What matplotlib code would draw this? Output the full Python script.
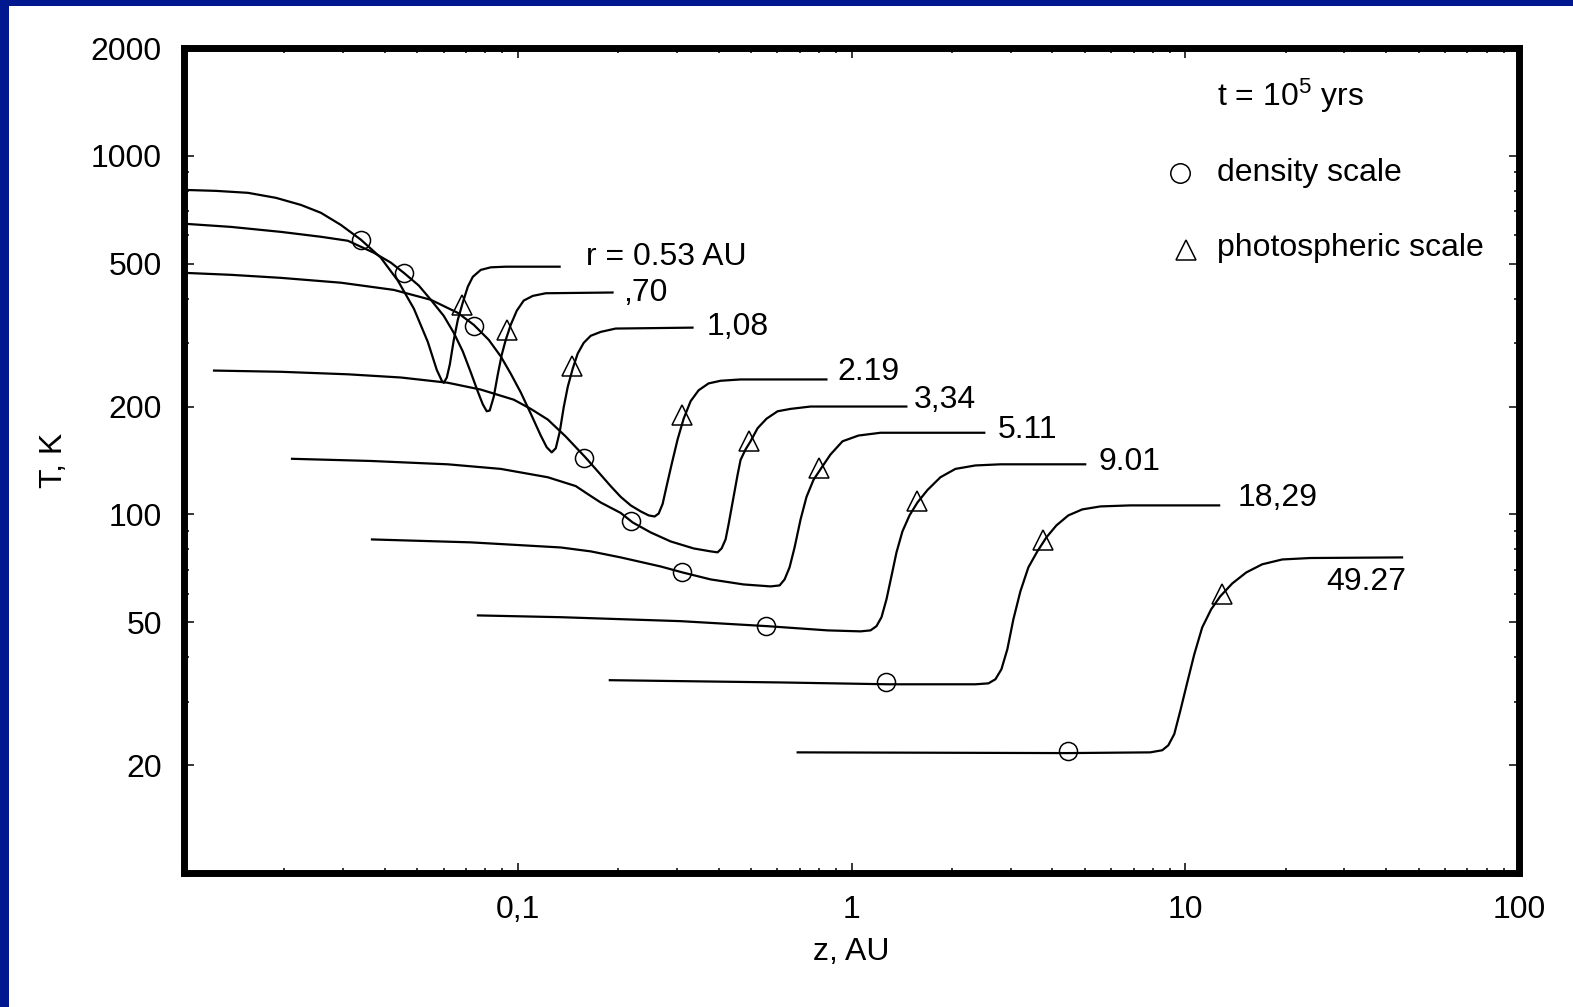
import matplotlib
matplotlib.use("Agg")
import matplotlib.pyplot as plt
from matplotlib.patches import Rectangle
from matplotlib.ticker import FixedLocator, LogLocator, NullFormatter, FuncFormatter

plt.rcParams['font.family'] = ['Liberation Sans', 'DejaVu Sans']
plt.rcParams['mathtext.fontset'] = 'custom'
plt.rcParams['mathtext.rm'] = 'Liberation Sans'
plt.rcParams['mathtext.it'] = 'Liberation Sans:italic'

# vertical temperature profiles T(z) at t = 1e5 yrs, z in AU, T in K
z_053 = [0.01000, 0.01247, 0.01555, 0.01886, 0.02241, 0.02572, 0.02952, 0.03388, 0.03889,
         0.04372, 0.04884, 0.05376, 0.05720, 0.05922, 0.06002, 0.06130, 0.06258, 0.06433,
         0.06613, 0.06844, 0.07087, 0.07333, 0.07748, 0.08304, 0.09206, 0.1345]
T_053 = [804, 799, 789, 764, 730, 694, 642, 584, 520,
         449, 375, 303, 253, 236, 233, 241, 262, 307,
         349, 390, 432, 460, 481, 489, 491, 491]

z_070 = [0.01000, 0.01382, 0.01952, 0.02572, 0.03097, 0.03706, 0.04166, 0.04557, 0.05053,
         0.05489, 0.06002, 0.06433, 0.06844, 0.07233, 0.07593, 0.07855, 0.08073, 0.08242,
         0.08475, 0.08715, 0.08955, 0.09206, 0.09528, 0.09931, 0.1042, 0.1109, 0.1213, 0.1938]
T_070 = [647, 634, 614, 595, 580, 537, 504, 472, 435,
         397, 358, 321, 285, 249, 220, 203, 194, 195,
         213, 246, 279, 307, 338, 370, 395, 407, 414, 416]

z_108 = [0.01000, 0.01382, 0.01952, 0.02952, 0.04252, 0.05489, 0.06613, 0.07383, 0.08186,
         0.08893, 0.09528, 0.1021, 0.1094, 0.1172, 0.1221, 0.1264, 0.1300, 0.1336,
         0.1373, 0.1412, 0.1461, 0.1512, 0.1576, 0.1654, 0.1772, 0.1965, 0.3364]
T_108 = [472, 466, 457, 443, 423, 397, 365, 338, 307,
         276, 247, 219, 191, 166, 154, 149, 153, 170,
         199, 227, 255, 281, 301, 315, 323, 330, 332]

z_219 = [0.01221, 0.01952, 0.03097, 0.04463, 0.06172, 0.07748, 0.09728, 0.1094, 0.1230,
         0.1392, 0.1598, 0.1748, 0.1898, 0.2034, 0.2180, 0.2335, 0.2468, 0.2571, 0.2644,
         0.2717, 0.2793, 0.2891, 0.3013, 0.3141, 0.3296, 0.3483, 0.3730, 0.4053, 0.4652,
         0.8475]
T_219 = [252, 250, 246, 241, 233, 223, 209, 197, 184,
         165, 144, 131, 120, 112, 106, 102, 99.4, 98.7, 100.6,
         107, 120, 138, 162, 185, 207, 222, 232, 236, 238,
         238]

z_334 = [0.02091, 0.03630, 0.06172, 0.08893, 0.1230, 0.1492, 0.1621, 0.1772, 0.2034, 0.2210,
         0.2502, 0.2871, 0.3364, 0.3782, 0.3970, 0.4081, 0.4195, 0.4282, 0.4433, 0.4557,
         0.4652, 0.4817, 0.4984, 0.5231, 0.5566, 0.6005, 0.6568, 0.7538, 1.471]
T_334 = [143, 141, 138, 134, 127, 120, 114, 108, 101, 95.0,
         89.1, 84.1, 80.4, 78.9, 78.4, 80.4, 85.2, 93.8, 112, 129,
         142, 152, 160, 174, 185, 194, 197, 200, 200]

z_511 = [0.03630, 0.07233, 0.1345, 0.1654, 0.2034, 0.2681, 0.3119, 0.3782, 0.4750, 0.5722,
         0.6089, 0.6303, 0.6523, 0.6752, 0.7036, 0.7332, 0.7697, 0.8131, 0.8652, 0.9399,
         1.049, 1.222, 2.519]
T_511 = [85.2, 83.6, 80.9, 78.9, 75.9, 71.6, 68.9, 65.9, 63.8, 63.0,
         63.4, 65.9, 71.2, 80.9, 96.8, 112, 125, 135, 147, 160,
         166, 169, 169]

z_901 = [0.07541, 0.1345, 0.3076, 0.5604, 0.8475, 1.064, 1.140, 1.188, 1.230, 1.273,
         1.317, 1.364, 1.421, 1.492, 1.576, 1.689, 1.847, 2.048, 2.351, 2.793, 5.053]
T_901 = [52.3, 51.7, 50.4, 48.8, 47.5, 47.2, 47.5, 48.8, 51.7, 58.0,
         67.2, 78.4, 89.7, 99.4, 108, 117, 127, 134, 137, 138, 138]

z_1829 = [0.1873, 0.6131, 1.291, 2.351, 2.572, 2.699, 2.813, 2.931, 3.055, 3.206,
          3.388, 3.605, 3.836, 4.110, 4.463, 4.915, 5.567, 6.845, 12.73]
T_1829 = [34.5, 34.0, 33.6, 33.6, 33.8, 34.7, 37.0, 42.1, 51.0, 61.0,
          71.2, 78.9, 86.3, 93.2, 99.4, 103.3, 105.3, 106, 106]

z_4927 = [0.6845, 4.433, 7.857, 8.534, 8.895, 9.270, 9.661, 10.14, 10.64, 11.24,
          11.96, 12.73, 13.83, 15.23, 17.00, 19.52, 23.67, 44.96]
T_4927 = [21.7, 21.6, 21.7, 22.0, 22.7, 24.4, 28.3, 34.0, 40.7, 48.4,
          54.4, 59.1, 64.2, 68.9, 72.6, 74.9, 75.6, 75.9]

# density scale heights (circles) and photospheric heights (triangles)
dens_z = [0.0339, 0.0456, 0.0738, 0.1576, 0.2180, 0.3097, 0.5527, 1.273, 4.463]
dens_T = [583, 472, 336, 144, 95.6, 68.9, 48.8, 34.0, 21.9]
phot_z = [0.0680, 0.0927, 0.1451, 0.3097, 0.4916, 0.7965, 1.576, 3.757, 12.91]
phot_T = [385, 328, 260, 190, 160, 135, 109, 84.7, 59.9]

# curve labels (radius r, AU)
r_labels = ["r = 0.53 AU", ",70", "1,08", "2.19", "3,34", "5.11", "9.01", "18,29", "49.27"]
label_z = [0.1598, 0.2063, 0.368, 0.908, 1.533, 2.736, 5.49, 14.31, 26.44]
label_T = [523, 415, 334, 250, 209, 172, 140, 111, 64.7]

y_major = [20, 50, 100, 200, 500, 1000, 2000]
x_major = [0.1, 1, 10, 100]

FS = 23
blue = '#00188f'

fig = plt.figure(figsize=(15.73, 10.07), dpi=100, facecolor='white')
fig.patches.append(Rectangle((0, 1 - 6 / 1007), 1, 6 / 1007, transform=fig.transFigure,
                             facecolor=blue, edgecolor='none'))
fig.patches.append(Rectangle((0, 0), 9 / 1573, 1, transform=fig.transFigure,
                             facecolor=blue, edgecolor='none'))

ax = fig.add_axes([184 / 1573, 1 - 873 / 1007, 1335 / 1573, 825 / 1007])
ax.set_xscale('log')
ax.set_yscale('log')
ax.set_xlim(0.01, 100)
ax.set_ylim(10, 2000)

curves = [(z_053, T_053), (z_070, T_070), (z_108, T_108), (z_219, T_219), (z_334, T_334),
          (z_511, T_511), (z_901, T_901), (z_1829, T_1829), (z_4927, T_4927)]
for z, T in curves:
    ax.plot(z, T, color='black', lw=1.6, solid_joinstyle='round', solid_capstyle='butt')

ax.plot(dens_z, dens_T, ls='none', marker='o', ms=13, mfc='none', mec='black', mew=1.1)
ax.plot(phot_z, phot_T, ls='none', marker='^', ms=14, mfc='none', mec='black', mew=1.1)

for txt, lz, lT in zip(r_labels, label_z, label_T):
    ax.text(lz, lT, txt, fontsize=FS, ha='left', va='center')

# legend block, top right
ax.text(0.7738, 0.9418, 't = 10$^{5}$ yrs', transform=ax.transAxes, fontsize=FS,
        ha='left', va='center')
ax.plot([0.7461], [0.8485], transform=ax.transAxes, marker='o', ms=14, mfc='none',
        mec='black', mew=1.1, ls='none')
ax.text(0.7738, 0.8485, 'density scale', transform=ax.transAxes, fontsize=FS,
        ha='left', va='center')
ax.plot([0.7506], [0.7552], transform=ax.transAxes, marker='^', ms=15, mfc='none',
        mec='black', mew=1.1, ls='none')
ax.text(0.7738, 0.7576, 'photospheric scale', transform=ax.transAxes, fontsize=FS,
        ha='left', va='center')

# axes, ticks
for s in ax.spines.values():
    s.set_linewidth(5)
ax.yaxis.set_major_locator(FixedLocator(y_major))
ax.yaxis.set_minor_locator(LogLocator(base=10, subs=range(1, 10)))
ax.yaxis.set_major_formatter(FuncFormatter(lambda v, p: f"{v:g}"))
ax.yaxis.set_minor_formatter(NullFormatter())
ax.xaxis.set_major_locator(FixedLocator(x_major))
ax.xaxis.set_minor_locator(LogLocator(base=10, subs=range(1, 10)))
ax.xaxis.set_major_formatter(FuncFormatter(lambda v, p: f"{v:g}".replace('.', ',')))
ax.xaxis.set_minor_formatter(NullFormatter())
ax.tick_params(which='both', direction='in', top=True, right=True, width=1.1,
               labelsize=FS, pad=16)
ax.tick_params(which='major', length=7)
ax.tick_params(which='minor', length=3.5)

ax.set_xlabel('z, AU', fontsize=FS)
ax.set_ylabel('T, K', fontsize=FS)
ax.xaxis.set_label_coords(0.5, -0.077)
ax.yaxis.set_label_coords(-0.086, 0.5)

fig.savefig('out.png', dpi=100, facecolor='white')
